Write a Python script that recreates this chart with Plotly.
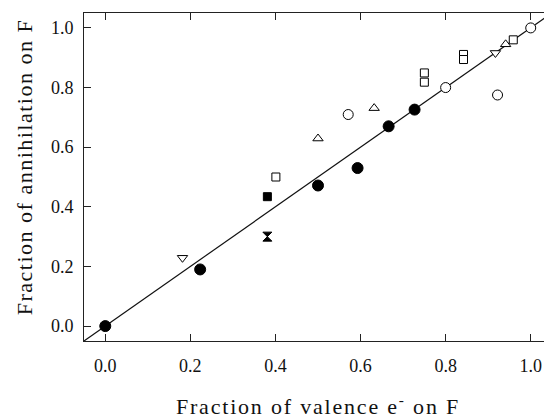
import plotly.graph_objects as go

# Filled circles
fc_x = [0.0, 0.223, 0.5, 0.593, 0.666, 0.727]
fc_y = [0.0, 0.190, 0.4715, 0.530, 0.670, 0.726]
# Filled square
fs_x = [0.381]
fs_y = [0.434]
# Filled hourglass
fh_x = [0.381]
fh_y = [0.300]
# Open squares
os_x = [0.401, 0.75, 0.75, 0.842, 0.842, 0.959]
os_y = [0.500, 0.849, 0.818, 0.911, 0.894, 0.960]
# Open circles
oc_x = [0.571, 0.800, 0.922, 1.0]
oc_y = [0.7095, 0.800, 0.775, 1.0]
# Open triangles up
otu_x = [0.5, 0.632, 0.941]
otu_y = [0.629, 0.731, 0.945]
# Open triangles down
otd_x = [0.1815, 0.917]
otd_y = [0.229, 0.916]
# y = x reference line
line_x = [-0.05, 1.05]
line_y = [-0.05, 1.05]

x_ticks = [0.0, 0.2, 0.4, 0.6, 0.8, 1.0]
y_ticks = [0.0, 0.2, 0.4, 0.6, 0.8, 1.0]
x_ticklabels = ["0.0", "0.2", "0.4", "0.6", "0.8", "1.0"]
y_ticklabels = ["0.0", "0.2", "0.4", "0.6", "0.8", "1.0"]

x_title = "Fraction of valence e<sup>-</sup> on F"
y_title = "Fraction of annihilation on F"

FONT = "'Liberation Serif', 'Times New Roman', Times, serif"
BLACK = "#000000"

fig = go.Figure()
fig.add_trace(go.Scatter(x=line_x, y=line_y, mode="lines",
                         line=dict(color="#111111", width=1.2), hoverinfo="skip"))

def add(xs, ys, symbol, size, filled):
    fig.add_trace(go.Scatter(
        x=xs, y=ys, mode="markers",
        marker=dict(symbol=symbol, size=size,
                    color=BLACK if filled else "white",
                    line=dict(color=BLACK, width=1))))

add(fc_x, fc_y, "circle", 11, True)
add(fs_x, fs_y, "square", 8, True)
add(fh_x, fh_y, "hourglass", 9, True)
add(os_x, os_y, "square", 8, False)
add(oc_x, oc_y, "circle", 10, False)
add(otu_x, otu_y, "triangle-up", 9, False)
add(otd_x, otd_y, "triangle-down", 9, False)

fig.update_layout(
    width=544, height=412,
    margin=dict(l=76, r=0, t=5, b=79, autoexpand=False),
    paper_bgcolor="white", plot_bgcolor="white",
    showlegend=False,
    font=dict(family=FONT, color="#111111", size=18),
    xaxis=dict(range=[-0.05, 1.05], tickvals=x_ticks, ticktext=x_ticklabels,
               showline=True, linecolor="#222222", linewidth=1, mirror="ticks",
               ticks="inside", ticklen=7, tickwidth=1, tickcolor="#222222",
               showgrid=False, zeroline=False, automargin=False,
               tickfont=dict(family=FONT, size=18),
               ticklabelstandoff=8,
               title=dict(text='<span style="letter-spacing:1.8px">' + x_title + "</span>",
                          font=dict(family=FONT, size=22), standoff=24)),
    yaxis=dict(range=[-0.05, 1.05], tickvals=y_ticks, ticktext=y_ticklabels,
               showline=True, linecolor="#222222", linewidth=1, mirror="ticks",
               ticks="inside", ticklen=7, tickwidth=1, tickcolor="#222222",
               showgrid=False, zeroline=False, automargin=False,
               tickfont=dict(family=FONT, size=18),
               ticklabelstandoff=6),
    annotations=[dict(text='<span style="letter-spacing:1.5px">' + y_title + "</span>",
                      xref="paper", yref="paper", x=-0.128, y=0.53,
                      xanchor="center", yanchor="middle", textangle=-90,
                      showarrow=False, font=dict(family=FONT, size=22, color="#111111"))],
)

fig.write_html("out.html")
